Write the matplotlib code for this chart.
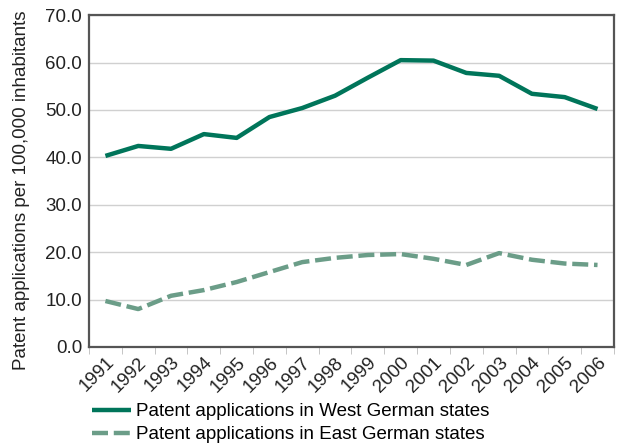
import numpy as np
import matplotlib.pyplot as plt

plt.rcParams['font.family'] = ['Liberation Sans', 'DejaVu Sans']

years = [str(y) for y in range(1991, 2007)]
west = [40.3, 42.4, 41.8, 44.9, 44.1, 48.5, 50.4, 53.0, 56.8, 60.5, 60.4, 57.8, 57.2, 53.4, 52.7, 50.2]
east = [9.7, 8.0, 10.8, 12.0, 13.7, 15.8, 17.9, 18.8, 19.4, 19.6, 18.6, 17.3, 19.8, 18.4, 17.6, 17.3]

fs = 13.5
fig = plt.figure(figsize=(6.19, 4.44), dpi=100)
ax = fig.add_axes([0.1438, 0.2185, 0.848, 0.7475])

x = np.arange(len(years))
ax.plot(x, west, color='#00755a', lw=3.2, solid_capstyle='butt',
        label='Patent applications in West German states')
ax.plot(x, east, color='#6b9d88', lw=3.2, dashes=(3.6, 1.3),
        label='Patent applications in East German states')

ax.set_xlim(-0.5, len(years) - 0.5)
ax.set_ylim(0, 70)
ax.set_yticks(np.arange(0, 71, 10))
ax.set_yticklabels(['%.1f' % v for v in np.arange(0, 71, 10)], fontsize=fs, color='#222222')
ax.set_xticks(x)
ax.set_xticklabels(years, rotation=45, ha='right', rotation_mode='anchor', fontsize=fs, color='#222222')
ax.set_xticks(np.arange(-0.5, len(years)), minor=True)
ax.tick_params(axis='x', which='major', length=0, pad=5)
ax.tick_params(axis='x', which='minor', length=5, color='#bbbbbb')
ax.tick_params(axis='y', length=0, pad=5)
ax.grid(axis='y', color='#d0d0d0', lw=1)
ax.set_axisbelow(True)
for s in ax.spines.values():
    s.set_color('#555555')
    s.set_linewidth(1.6)

ax.set_ylabel('Patent applications per 100,000 inhabitants', fontsize=fs, color='#222222')
ax.yaxis.set_label_coords(-0.113, 0.472)

fig.legend(loc='lower left', bbox_to_anchor=(0.147, 0.0), frameon=False, fontsize=fs,
           handlelength=2.1, handletextpad=0.27, labelspacing=0.3, borderpad=0.05,
           borderaxespad=0)

fig.savefig('out.png', dpi=100)
